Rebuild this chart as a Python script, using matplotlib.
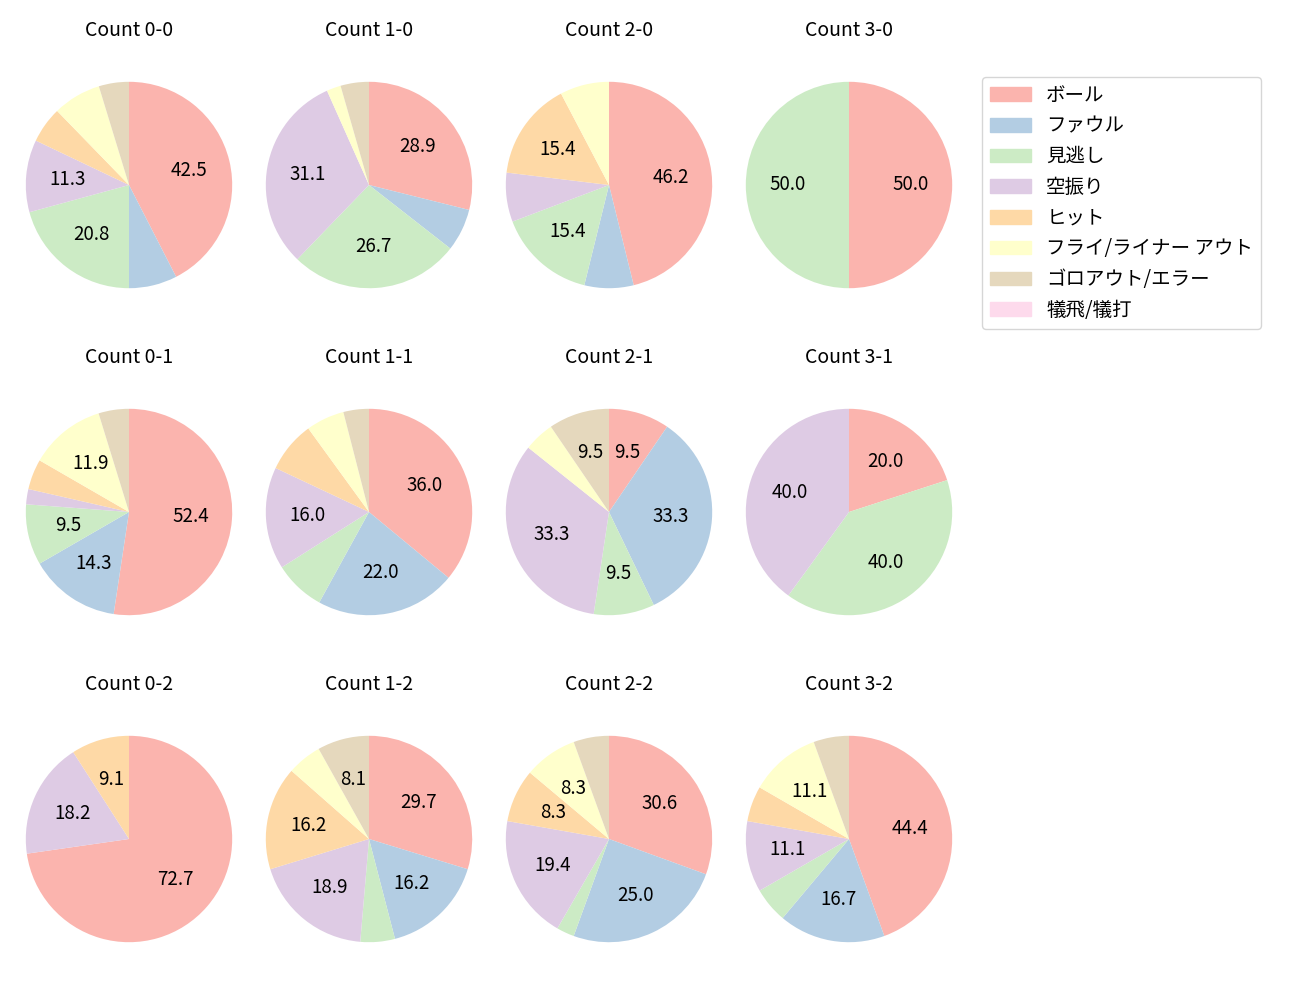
import matplotlib
matplotlib.use("Agg")
import matplotlib.pyplot as plt
import numpy as np

plt.rcParams['font.family'] = ['Noto Sans CJK JP', 'DejaVu Sans']

categories = ['ボール', 'ファウル', '見逃し', '空振り', 'ヒット',
              'フライ/ライナー アウト', 'ゴロアウト/エラー', '犠飛/犠打']

# pitch outcome counts per ball-strike count, in category order
counts = {
    '0-0': [45, 8, 22, 12, 6, 8, 5, 0],
    '1-0': [13, 3, 12, 14, 0, 1, 2, 0],
    '2-0': [6, 1, 2, 1, 2, 1, 0, 0],
    '3-0': [1, 0, 1, 0, 0, 0, 0, 0],
    '0-1': [22, 6, 4, 1, 2, 5, 2, 0],
    '1-1': [18, 11, 4, 8, 4, 3, 2, 0],
    '2-1': [2, 7, 2, 7, 0, 1, 2, 0],
    '3-1': [1, 0, 2, 2, 0, 0, 0, 0],
    '0-2': [8, 0, 0, 2, 1, 0, 0, 0],
    '1-2': [11, 6, 2, 7, 6, 2, 3, 0],
    '2-2': [11, 9, 1, 7, 3, 3, 2, 0],
    '3-2': [8, 3, 1, 2, 1, 2, 1, 0],
}
rows = [['0-0', '1-0', '2-0', '3-0'],
        ['0-1', '1-1', '2-1', '3-1'],
        ['0-2', '1-2', '2-2', '3-2']]

colors = plt.cm.Pastel1(np.arange(8))

W, H = 1300, 1000
fig = plt.figure(figsize=(13, 10), dpi=100)

size = 258
for r, row in enumerate(rows):
    for c, key in enumerate(row):
        cx = 129 + 240 * c
        cy = 185 + 327 * r
        ax = fig.add_axes([(cx - size / 2) / W, 1 - (cy + size / 2) / H,
                           size / W, size / H])
        vals = np.array(counts[key], dtype=float)
        ax.pie(vals, colors=colors, startangle=90, counterclock=False,
               autopct=lambda p: f'{p:.1f}' if p > 8.05 else '',
               textprops={'fontsize': 13.5})
        ax.set_title(f'Count {key}', fontsize=14, pad=14.5)

handles = [plt.Rectangle((0, 0), 1, 1, color=colors[i]) for i in range(8)]
fig.legend(handles, categories, loc='upper left',
           bbox_to_anchor=(982 / W, 1 - 77 / H), fontsize=14,
           borderaxespad=0, handlelength=2.1)

fig.savefig('out.png', dpi=100)
